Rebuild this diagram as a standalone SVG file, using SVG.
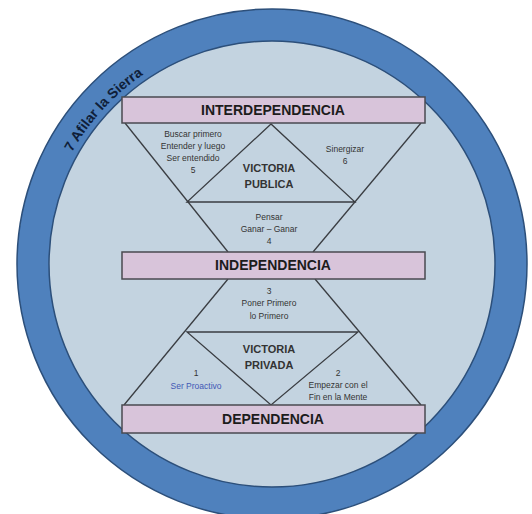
<svg xmlns="http://www.w3.org/2000/svg" width="532" height="514" viewBox="0 0 532 514">
<style>
.ln{stroke:#3a3d42;stroke-width:1.3;fill:none}
.bar{fill:#d8c4da;stroke:#4a4a50;stroke-width:1.5}
.tb{font-family:"Liberation Sans",Arial,sans-serif;font-weight:bold;font-size:14px;fill:#1c1c1c;text-anchor:middle}
.vt{font-family:"Liberation Sans",Arial,sans-serif;font-weight:bold;font-size:11px;fill:#333;text-anchor:middle}
.sm{font-family:"Liberation Sans",Arial,sans-serif;font-size:8.5px;fill:#333;text-anchor:middle}
</style>
<defs>
<path id="arc" d="M 50.8 204.7 A 229 229 0 0 1 193.7 48.8"/>
</defs>
<rect width="532" height="514" fill="#ffffff"/>
<g id="ring">
<circle cx="272" cy="264" r="255" fill="#4f81bd" stroke="#2c4f7a" stroke-width="1.5"/>
<circle cx="272" cy="264" r="223" fill="#c3d3e0" stroke="#2c4f7a" stroke-width="1.5"/>
<text font-family="Liberation Sans,Arial,sans-serif" font-weight="bold" font-size="14" fill="#0f1f3a" text-anchor="middle"><textPath href="#arc" startOffset="50%">7 Afilar la Sierra</textPath></text>
</g>
<g id="connectors">
<line class="ln" x1="125" y1="123" x2="228" y2="252"/>
<line class="ln" x1="421" y1="123" x2="313" y2="252"/>
<polygon class="ln" points="271,124 187,202 355,202"/>
<line class="ln" x1="228" y1="279" x2="124" y2="405"/>
<line class="ln" x1="315" y1="279" x2="421" y2="405"/>
<polygon class="ln" points="187,332 358,332 271,405"/>
</g>
<g id="interdependencia">
<rect class="bar" x="122" y="97" width="303" height="26"/>
<text class="tb" x="273" y="115">INTERDEPENDENCIA</text>
</g>
<g id="independencia">
<rect class="bar" x="122" y="252" width="303" height="27"/>
<text class="tb" x="273" y="270">INDEPENDENCIA</text>
</g>
<g id="dependencia">
<rect class="bar" x="122" y="405" width="303" height="28"/>
<text class="tb" x="273" y="424">DEPENDENCIA</text>
</g>
<g id="victoria-publica">
<text class="vt" x="269" y="172">VICTORIA</text>
<text class="vt" x="269" y="188">PUBLICA</text>
</g>
<g id="habito5">
<text class="sm" x="193" y="137">Buscar primero</text>
<text class="sm" x="193" y="149">Entender y luego</text>
<text class="sm" x="193" y="161">Ser entendido</text>
<text class="sm" x="193" y="173">5</text>
</g>
<g id="habito6">
<text class="sm" x="345" y="152">Sinergizar</text>
<text class="sm" x="345" y="164">6</text>
</g>
<g id="habito4">
<text class="sm" x="269" y="220">Pensar</text>
<text class="sm" x="269" y="232">Ganar – Ganar</text>
<text class="sm" x="269" y="244">4</text>
</g>
<g id="habito3">
<text class="sm" x="269" y="294">3</text>
<text class="sm" x="269" y="306">Poner Primero</text>
<text class="sm" x="269" y="319">lo Primero</text>
</g>
<g id="victoria-privada">
<text class="vt" x="269" y="353">VICTORIA</text>
<text class="vt" x="269" y="369">PRIVADA</text>
</g>
<g id="habito1">
<text class="sm" x="196" y="376">1</text>
<text class="sm" x="196" y="389" fill="#4258b5" style="fill:#4258b5">Ser Proactivo</text>
</g>
<g id="habito2">
<text class="sm" x="338" y="376">2</text>
<text class="sm" x="338" y="388">Empezar con el</text>
<text class="sm" x="338" y="400">Fin en la Mente</text>
</g>
</svg>
